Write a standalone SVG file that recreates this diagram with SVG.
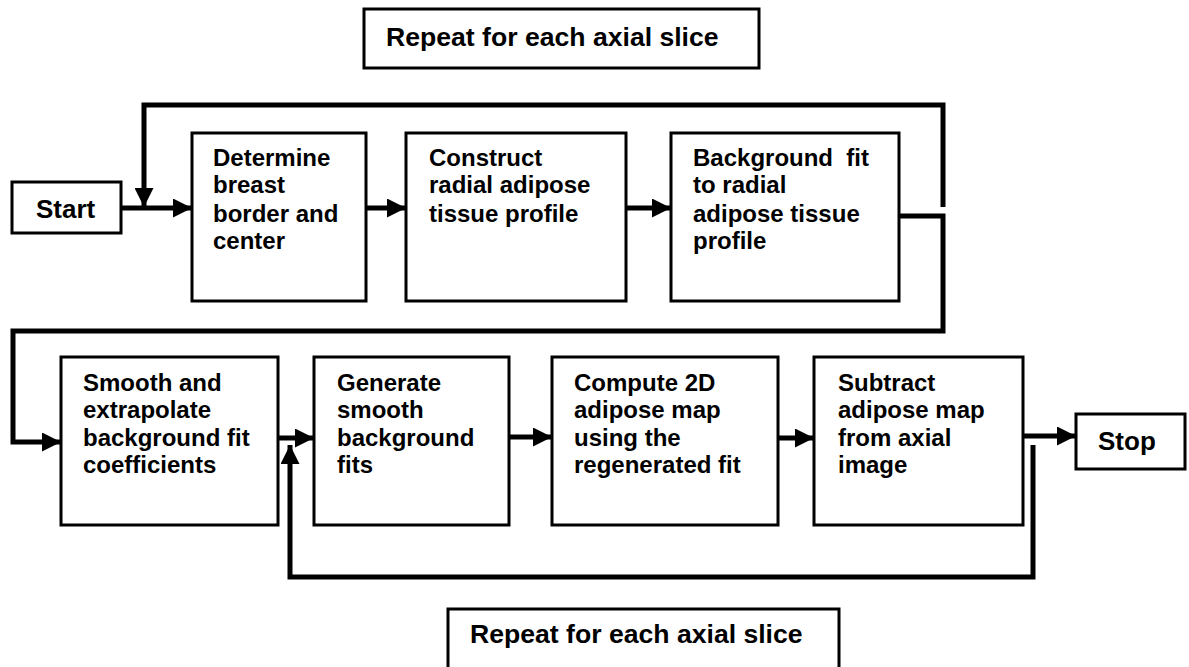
<svg xmlns="http://www.w3.org/2000/svg" width="1189" height="667" viewBox="0 0 1189 667">
  <style>
    .box { fill: #ffffff; stroke: #000000; stroke-width: 3; }
    .lbl { font-family: "Liberation Sans", Arial, Helvetica, sans-serif; font-weight: bold; font-size: 24px; fill: #000000; }
    .big { font-size: 26px; }
    .rep { font-size: 26.6px; }
    .wire { fill: none; stroke: #000000; stroke-width: 5; stroke-linejoin: miter; }
  </style>
  <defs>
    <marker id="head" markerUnits="userSpaceOnUse" markerWidth="19" markerHeight="19" refX="19" refY="9.5" orient="auto">
      <path d="M0,0 L19,9.5 L0,19 Z" fill="#000000"/>
    </marker>
  </defs>
  <rect width="1189" height="667" fill="#ffffff"/>

  <!-- loop labels -->
  <g id="repeat-top">
    <rect class="box" x="364" y="9" width="395" height="59"/>
    <text class="lbl rep" x="386" y="46">Repeat for each axial slice</text>
  </g>
  <g id="repeat-bottom">
    <rect class="box" x="448" y="609" width="391" height="70"/>
    <text class="lbl rep" x="470" y="643">Repeat for each axial slice</text>
  </g>

  <!-- connectors -->
  <g id="connectors">
    <!-- per-slice loop of the first row -->
    <path class="wire" d="M943,207 V105 H144 V207" marker-end="url(#head)"/>
    <path class="wire" d="M121,208 H192" marker-end="url(#head)"/>
    <path class="wire" d="M366,208 H406" marker-end="url(#head)"/>
    <path class="wire" d="M626,208 H671" marker-end="url(#head)"/>
    <!-- row 1 to row 2 -->
    <path class="wire" d="M899,216 H943 V331 H13 V442 H61" marker-end="url(#head)"/>
    <path class="wire" d="M278,438 H314" marker-end="url(#head)"/>
    <path class="wire" d="M509,437 H552" marker-end="url(#head)"/>
    <path class="wire" d="M778,438 H814" marker-end="url(#head)"/>
    <path class="wire" d="M1023,436 H1076" marker-end="url(#head)"/>
    <!-- per-slice loop of the second row -->
    <path class="wire" d="M1033,445 V577 H290 V445" marker-end="url(#head)"/>
  </g>

  <g id="start">
    <rect class="box" x="12" y="182" width="109" height="51"/>
    <text class="lbl big" x="36" y="218">Start</text>
  </g>

  <g id="border">
    <rect class="box" x="192" y="133" width="174" height="168"/>
    <text class="lbl" x="213" y="166">Determine</text>
    <text class="lbl" x="213" y="193">breast</text>
    <text class="lbl" x="213" y="222">border and</text>
    <text class="lbl" x="213" y="249">center</text>
  </g>

  <g id="profile">
    <rect class="box" x="406" y="133" width="220" height="168"/>
    <text class="lbl" x="429" y="166">Construct</text>
    <text class="lbl" x="429" y="193">radial adipose</text>
    <text class="lbl" x="429" y="222">tissue profile</text>
  </g>

  <g id="bgfit">
    <rect class="box" x="671" y="133" width="228" height="168"/>
    <text class="lbl" x="693" y="166" xml:space="preserve">Background  fit</text>
    <text class="lbl" x="693" y="193">to radial</text>
    <text class="lbl" x="693" y="222">adipose tissue</text>
    <text class="lbl" x="693" y="249">profile</text>
  </g>

  <g id="smooth">
    <rect class="box" x="61" y="357" width="217" height="168"/>
    <text class="lbl" x="83" y="391">Smooth and</text>
    <text class="lbl" x="83" y="418">extrapolate</text>
    <text class="lbl" x="83" y="446">background fit</text>
    <text class="lbl" x="83" y="473">coefficients</text>
  </g>

  <g id="generate">
    <rect class="box" x="314" y="357" width="195" height="168"/>
    <text class="lbl" x="337" y="391">Generate</text>
    <text class="lbl" x="337" y="418">smooth</text>
    <text class="lbl" x="337" y="446">background</text>
    <text class="lbl" x="337" y="473">fits</text>
  </g>

  <g id="map">
    <rect class="box" x="552" y="357" width="226" height="168"/>
    <text class="lbl" x="574" y="391">Compute 2D</text>
    <text class="lbl" x="574" y="418">adipose map</text>
    <text class="lbl" x="574" y="446">using the</text>
    <text class="lbl" x="574" y="473">regenerated fit</text>
  </g>

  <g id="subtract">
    <rect class="box" x="814" y="357" width="209" height="168"/>
    <text class="lbl" x="838" y="391">Subtract</text>
    <text class="lbl" x="838" y="418">adipose map</text>
    <text class="lbl" x="838" y="446">from axial</text>
    <text class="lbl" x="838" y="473">image</text>
  </g>

  <g id="stop">
    <rect class="box" x="1076" y="414" width="109" height="55"/>
    <text class="lbl big" x="1098" y="450">Stop</text>
  </g>
</svg>
